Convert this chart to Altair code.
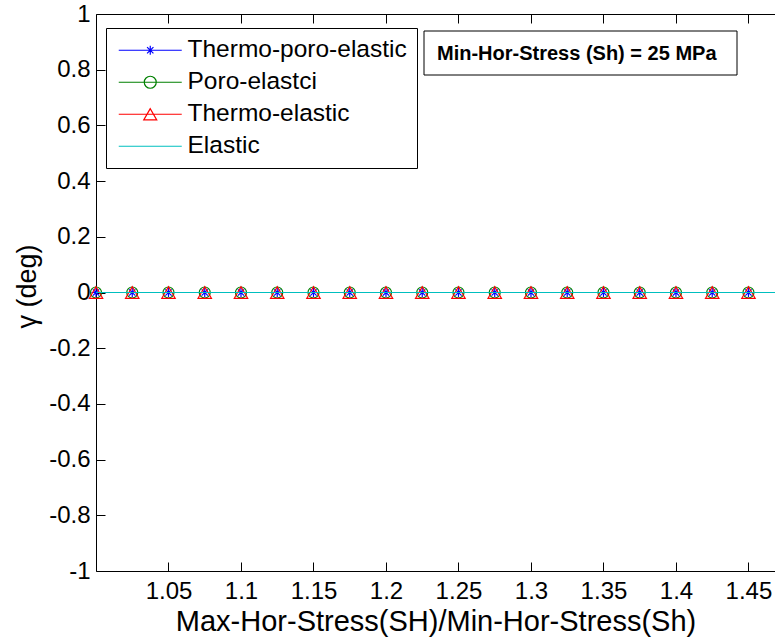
import altair as alt
import pandas as pd

# ---- data ----
ratios = [1.0, 1.025, 1.05, 1.075, 1.1, 1.125, 1.15, 1.175, 1.2, 1.225, 1.25,
          1.275, 1.3, 1.325, 1.35, 1.375, 1.4, 1.425, 1.45, 1.475, 1.5]
gamma_thermo_poro = [0, 0, 0, 0, 0, 0, 0, 0, 0, 0, 0, 0, 0, 0, 0, 0, 0, 0, 0, 0, 0]
gamma_poro = [0, 0, 0, 0, 0, 0, 0, 0, 0, 0, 0, 0, 0, 0, 0, 0, 0, 0, 0, 0, 0]
gamma_thermo = [0, 0, 0, 0, 0, 0, 0, 0, 0, 0, 0, 0, 0, 0, 0, 0, 0, 0, 0, 0, 0]
gamma_elastic = [0, 0, 0, 0, 0, 0, 0, 0, 0, 0, 0, 0, 0, 0, 0, 0, 0, 0, 0, 0, 0]

series_names = ["Thermo-poro-elastic", "Poro-elastci", "Thermo-elastic", "Elastic"]
series_values = [gamma_thermo_poro, gamma_poro, gamma_thermo, gamma_elastic]
x_tick_values = [1.05, 1.1, 1.15, 1.2, 1.25, 1.3, 1.35, 1.4, 1.45]
y_tick_values = [-1, -0.8, -0.6, -0.4, -0.2, 0, 0.2, 0.4, 0.6, 0.8, 1]
annotation = ["Min-Hor-Stress (Sh) = 25 MPa"]

# ---- styles ----
colors = ["#0000FF", "#008000", "#FF0000", "#00BFBF"]
STAR = "M-1,0L1,0M0,-1L0,1M-0.7,-0.7L0.7,0.7M-0.7,0.7L0.7,-0.7"
plot_shapes = [(STAR, 81), ("circle", 121), ("triangle-up", 180), (None, None)]
legend_paths = [
    "M-5.25,0L5.25,0M-0.75,0L0.75,0M0,-0.75L0,0.75M-0.53,-0.53L0.53,0.53M-0.53,0.53L0.53,-0.53",
    "M-5.25,0L5.25,0M-1,0A1,1,0,1,0,1,0A1,1,0,1,0,-1,0",
    "M-5.25,0L5.25,0M0,-0.94L-1.083,0.94L1.083,0.94Z",
    "M-5.25,0L5.25,0",
]
FONT = "Liberation Sans"

rows = []
for name, vals in zip(series_names, series_values):
    for r, g in zip(ratios, vals):
        rows.append({"ratio": r, "gamma": g, "series": name})
df = pd.DataFrame(rows)

legend_df = pd.DataFrame({"series": series_names, "ratio": [1.0] * 4, "gamma": [5.0] * 4})
note_df = pd.DataFrame({"note": annotation})

xscale = alt.Scale(domain=[1.0, 1.4683], nice=False, zero=False)
yscale = alt.Scale(domain=[-1, 1], nice=False, zero=False)

common_axis = dict(
    ticks=False, grid=True, gridColor="black", gridDash=[9, 4000], gridWidth=1,
    gridOpacity=1, domain=True, domainColor="black", domainWidth=1,
    labelFont=FONT, labelColor="black", titleFont=FONT, titleColor="black",
    labelFlush=False, labelOverlap=False, labelBound=False,
)

bottom_axis = alt.Axis(
    orient="bottom", values=x_tick_values,
    labelExpr="format(datum.value, '.2~f')", labelFontSize=24, labelPadding=8,
    title="Max-Hor-Stress(SH)/Min-Hor-Stress(Sh)", titleFontSize=29,
    titleFontWeight="normal", titlePadding=4, **common_axis)

top_axis = alt.Axis(orient="top", values=x_tick_values, labels=False, title="",
                    **common_axis)

left_axis = alt.Axis(
    orient="left", values=y_tick_values,
    labelExpr="datum.value < 0 ? '-' + format(-datum.value, '.1~f') : format(datum.value, '.1~f')",
    labelFontSize=24, labelPadding=6, title="γ (deg)", titleFontSize=27,
    titleFontWeight="normal", titlePadding=7, titleY=272, **common_axis)

Y = alt.Y("gamma:Q", scale=yscale, axis=left_axis)

layers = []
first = True
for name, col, (shp, sz) in zip(series_names, colors, plot_shapes):
    xax = bottom_axis if first else None
    first = False
    base = alt.Chart(df).transform_filter(alt.datum.series == name)
    line = base.mark_line(color=col, strokeWidth=1, clip=False).encode(
        x=alt.X("ratio:Q", scale=xscale, axis=xax),
        y=Y,
    )
    layers.append(line)
    if shp is not None:
        pts = base.mark_point(shape=shp, size=sz, filled=False, color=col,
                              strokeWidth=1.2, opacity=1, clip=False).encode(
            x=alt.X("ratio:Q", scale=xscale, axis=None),
            y=Y,
        )
        layers.append(pts)

series_legend = alt.Legend(
    orient="none", legendX=10, legendY=14, title=None, padding=10,
    strokeColor="black", fillColor="white", labelFontSize=24.5, labelFont=FONT,
    labelColor="black", labelLimit=500, symbolSize=144, symbolStrokeWidth=1.2,
    symbolOpacity=1, symbolOffset=22, labelOffset=25, rowPadding=7,
)

legend_layer = alt.Chart(legend_df).mark_point(filled=False, size=144, opacity=1,
                                               clip=True).encode(
    x=alt.X("ratio:Q", scale=xscale, axis=top_axis),
    y=Y,
    color=alt.Color("series:N", scale=alt.Scale(domain=series_names, range=colors),
                    legend=series_legend),
    shape=alt.Shape("series:N", scale=alt.Scale(domain=series_names, range=legend_paths),
                    legend=series_legend),
)

# annotation box (pixel placement inside the plot area)
note_box = alt.Chart(note_df).mark_rect(fill="white", stroke="black", strokeWidth=1).encode(
    x=alt.value(328), x2=alt.value(641), y=alt.value(17), y2=alt.value(61),
)
note_text = alt.Chart(note_df).mark_text(
    font=FONT, fontSize=20, fontWeight="bold", color="black",
    align="left", baseline="middle",
).encode(x=alt.value(341), y=alt.value(39.5), text="note:N")

chart = alt.layer(*layers, legend_layer, note_box, note_text).resolve_axis(
    x="independent"
).properties(
    width=679, height=557,
    autosize=alt.AutoSizeParams(type="none"),
    padding={"left": 96, "top": 14, "right": 0, "bottom": 67},
    background="white",
).configure(font=FONT).configure_view(stroke="transparent")

chart.save("out.html", embed_options={"renderer": "svg", "actions": False})
